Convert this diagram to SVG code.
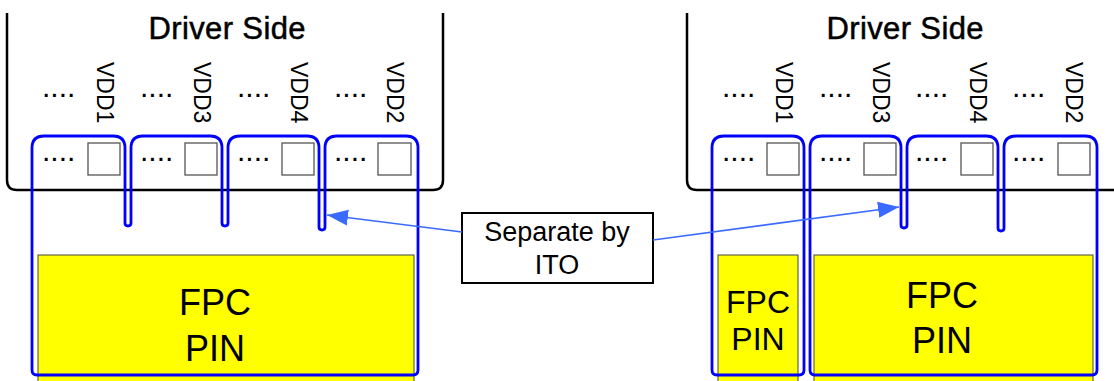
<svg xmlns="http://www.w3.org/2000/svg" width="1114" height="381" viewBox="0 0 1114 381">
<defs>
<style>
.drv{fill:none;stroke:#000;stroke-width:2.5}
.ttl{font-family:"Liberation Sans",Arial,sans-serif;font-size:31px;text-anchor:middle;fill:#000;stroke:#000;stroke-width:0.5}
.vdd{font-family:"Liberation Sans",Arial,sans-serif;font-size:23px;fill:#000}
.dots{font-family:"Liberation Sans",Arial,sans-serif;font-size:30px;fill:#000}
.sq{fill:#fff;stroke:#555;stroke-width:1.3}
.blue{fill:none;stroke:#0000ff;stroke-width:2.8;stroke-linejoin:round}
.pin{fill:#ffff00;stroke:#444;stroke-width:1}
.pint{font-family:"Liberation Sans",Arial,sans-serif;font-size:36px;text-anchor:middle;fill:#000}
.pins{font-family:"Liberation Sans",Arial,sans-serif;font-size:32px;text-anchor:middle;fill:#000}
.call{fill:#fff;stroke:#000;stroke-width:2}
.callt{font-family:"Liberation Sans",Arial,sans-serif;font-size:27px;text-anchor:middle;fill:#000}
.arr{stroke:#3a6bff;stroke-width:1.6;fill:none}
</style>
<marker id="ah" markerUnits="userSpaceOnUse" markerWidth="24" markerHeight="18" refX="21" refY="8" orient="auto">
<path d="M0,0 L21,8 L0,16 Z" fill="#3a6bff"/>
</marker>
</defs>

<g id="left-panel">
<g id="left-driver">
<path class="drv" d="M7,13 V180 Q7,190 17,190 H433 Q443,190 443,180 V13"/>
<text class="ttl" x="227" y="39" textLength="157" lengthAdjust="spacing">Driver Side</text>
</g>
<g id="left-labels">
<text class="dots" x="42" y="97">....</text>
<text class="dots" x="140" y="97">....</text>
<text class="dots" x="237" y="97">....</text>
<text class="dots" x="334" y="97">....</text>
<text class="vdd" transform="translate(97,62) rotate(90)">VDD1</text>
<text class="vdd" transform="translate(194,62) rotate(90)">VDD3</text>
<text class="vdd" transform="translate(291,62) rotate(90)">VDD4</text>
<text class="vdd" transform="translate(387,62) rotate(90)">VDD2</text>
</g>
<g id="left-fpc">
<rect class="pin" x="38" y="255" width="376" height="140"/>
<text class="pint" x="215" y="315">FPC</text>
<text class="pint" x="215" y="361">PIN</text>
</g>
<g id="left-pads">
<text class="dots" x="42" y="161">....</text>
<text class="dots" x="140" y="161">....</text>
<text class="dots" x="237" y="161">....</text>
<text class="dots" x="334" y="161">....</text>
<rect class="sq" x="88" y="143" width="32" height="32"/>
<rect class="sq" x="185" y="143" width="32" height="32"/>
<rect class="sq" x="282" y="143" width="32" height="32"/>
<rect class="sq" x="378" y="143" width="33" height="32"/>
</g>
<g id="left-ito">
<path class="blue" d="M32,148 Q32,136 44,136 H113 Q125,136 125,148 V223 Q125,226 128,226 Q131,226 131,223 V148 Q131,136 143,136 H210 Q222,136 222,148 V223 Q222,226 225,226 Q228,226 228,223 V148 Q228,136 240,136 H307 Q319,136 319,148 V227 Q319,230 322,230 Q325,230 325,227 V148 Q325,136 337,136 H406 Q418,136 418,148 V370 Q418,375 413,375 H37 Q32,375 32,370 Z"/>
</g>
</g>

<g id="right-panel">
<g id="right-driver">
<path class="drv" d="M687,13 V180 Q687,190 697,190 H1114"/>
<text class="ttl" x="905" y="39" textLength="157" lengthAdjust="spacing">Driver Side</text>
</g>
<g id="right-labels">
<text class="dots" x="722" y="97">....</text>
<text class="dots" x="819" y="97">....</text>
<text class="dots" x="915" y="97">....</text>
<text class="dots" x="1012" y="97">....</text>
<text class="vdd" transform="translate(776,62) rotate(90)">VDD1</text>
<text class="vdd" transform="translate(873,62) rotate(90)">VDD3</text>
<text class="vdd" transform="translate(970,62) rotate(90)">VDD4</text>
<text class="vdd" transform="translate(1066,62) rotate(90)">VDD2</text>
</g>
<g id="right-fpc-small">
<rect class="pin" x="718" y="255" width="80" height="140"/>
<text class="pins" x="758" y="313">FPC</text>
<text class="pins" x="758" y="350">PIN</text>
</g>
<g id="right-fpc-large">
<rect class="pin" x="814" y="255" width="279" height="140"/>
<text class="pint" x="942" y="308">FPC</text>
<text class="pint" x="942" y="353">PIN</text>
</g>
<g id="right-pads">
<text class="dots" x="722" y="161">....</text>
<text class="dots" x="819" y="161">....</text>
<text class="dots" x="915" y="161">....</text>
<text class="dots" x="1012" y="161">....</text>
<rect class="sq" x="767" y="143" width="32" height="32"/>
<rect class="sq" x="864" y="143" width="32" height="32"/>
<rect class="sq" x="961" y="143" width="32" height="32"/>
<rect class="sq" x="1058" y="143" width="32" height="32"/>
</g>
<g id="right-ito">
<path class="blue" d="M712,148 Q712,136 724,136 H792 Q804,136 804,148 V370 Q804,375 799,375 H717 Q712,375 712,370 Z"/>
<path class="blue" d="M810,148 Q810,136 822,136 H889 Q901,136 901,148 V225 Q901,228 904,228 Q907,228 907,225 V148 Q907,136 919,136 H986 Q998,136 998,148 V228 Q998,231 1001,231 Q1004,231 1004,228 V148 Q1004,136 1016,136 H1085 Q1097,136 1097,148 V370 Q1097,375 1092,375 H815 Q810,375 810,370 Z"/>
</g>
</g>

<g id="callout">
<rect class="call" x="462" y="213" width="191" height="70"/>
<text class="callt" x="557" y="241">Separate by</text>
<text class="callt" x="557" y="274">ITO</text>
</g>

<g id="connectors">
<line class="arr" x1="462" y1="232" x2="327" y2="215" marker-end="url(#ah)"/>
<line class="arr" x1="653" y1="240" x2="899" y2="207" marker-end="url(#ah)"/>
</g>
</svg>
